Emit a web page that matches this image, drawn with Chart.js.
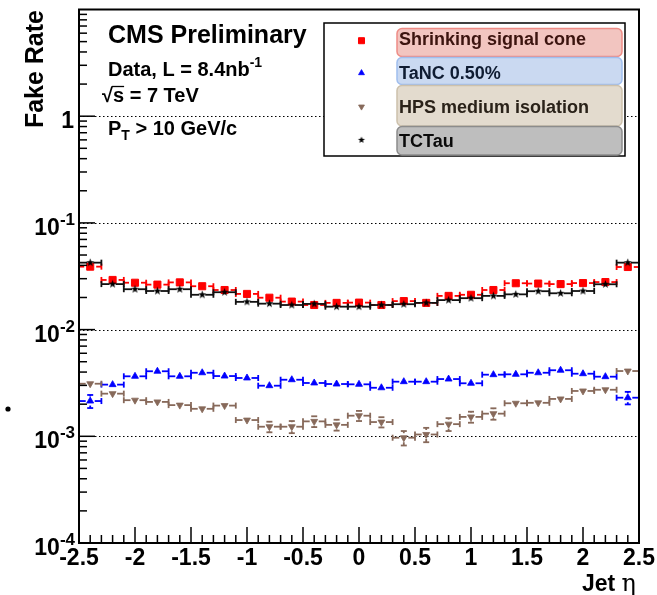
<!DOCTYPE html>
<html>
<head>
<meta charset="utf-8">
<script src="https://cdn.jsdelivr.net/npm/chart.js@4/dist/chart.umd.min.js"></script>
<style>
  html, body { margin: 0; padding: 0; background: #fff; overflow: hidden; }
  canvas { display: block; }
</style>
</head>
<body>
<canvas id="c" width="657" height="595"></canvas>
<script>
// Bin centres in jet eta (bins of width 0.2 from -2.5 to 2.5)
const etaCenters = [-2.4, -2.2, -2.0, -1.8, -1.6, -1.4, -1.2, -1.0, -0.8, -0.6, -0.4, -0.2, 0.0,
                    0.2, 0.4, 0.6, 0.8, 1.0, 1.2, 1.4, 1.6, 1.8, 2.0, 2.2, 2.4];
const binHalfWidth = 0.1;

// Fake rates per algorithm
const shrinkingCone = [0.0389, 0.0292, 0.0275, 0.0264, 0.0277, 0.0255, 0.0235, 0.0216, 0.0199, 0.0183, 0.0170, 0.0178, 0.0179,
                       0.0170, 0.0185, 0.0178, 0.0207, 0.0212, 0.0235, 0.0272, 0.0270, 0.0267, 0.0273, 0.0279, 0.0386];
const shrinkingConeErr = [0.0015, 0.0009, 0.0008, 0.0008, 0.0008, 0.0007, 0.0007, 0.0006, 0.0006, 0.0006, 0.0005, 0.0005, 0.0005,
                          0.0005, 0.0005, 0.0005, 0.0006, 0.0006, 0.0007, 0.0008, 0.0008, 0.0008, 0.0008, 0.0009, 0.0015];

const tanc = [0.00214, 0.00305, 0.00365, 0.00407, 0.00365, 0.00394, 0.00367, 0.00352, 0.00298, 0.00339, 0.00316, 0.00309, 0.00307,
              0.00285, 0.00325, 0.00325, 0.00344, 0.00314, 0.00378, 0.00381, 0.00394, 0.00416, 0.00386, 0.00362, 0.00230];
const tancErr = [0.00030, 0.00020, 0.00021, 0.00022, 0.00021, 0.00022, 0.00021, 0.00020, 0.00019, 0.00020, 0.00019, 0.00019, 0.00019,
                 0.00018, 0.00019, 0.00019, 0.00020, 0.00019, 0.00021, 0.00021, 0.00022, 0.00022, 0.00021, 0.00021, 0.00031];

const hps = [0.00311, 0.00251, 0.00218, 0.00210, 0.00196, 0.00181, 0.00194, 0.00142, 0.00123, 0.00123, 0.00138, 0.00128, 0.00156,
             0.00136, 0.00097, 0.00104, 0.00130, 0.00152, 0.00163, 0.00204, 0.00206, 0.00224, 0.00266, 0.00273, 0.00409];
const hpsErr = [0.00020, 0.00017, 0.00015, 0.00015, 0.00014, 0.00014, 0.00014, 0.00013, 0.00014, 0.00016, 0.00016, 0.00015, 0.00017,
                0.00015, 0.00015, 0.00016, 0.00018, 0.00018, 0.00020, 0.00015, 0.00015, 0.00016, 0.00018, 0.00018, 0.00022];

const tctau = [0.0424, 0.0267, 0.0239, 0.0230, 0.0239, 0.0212, 0.0224, 0.0182, 0.0175, 0.0170, 0.0174, 0.0164, 0.0164,
               0.0170, 0.0173, 0.0178, 0.0189, 0.0197, 0.0207, 0.0214, 0.0229, 0.0219, 0.0230, 0.0266, 0.0424];
const tctauErr = [0.0015, 0.0008, 0.0007, 0.0007, 0.0007, 0.0007, 0.0007, 0.0006, 0.0006, 0.0005, 0.0005, 0.0005, 0.0005,
                  0.0005, 0.0005, 0.0005, 0.0006, 0.0006, 0.0006, 0.0007, 0.0007, 0.0007, 0.0007, 0.0008, 0.0015];

const seriesNames = ['Shrinking signal cone', 'TaNC 0.50%', 'HPS medium isolation', 'TCTau'];

// Axis ticks
const xTickLabels = ['-2.5', '-2', '-1.5', '-1', '-0.5', '0', '0.5', '1', '1.5', '2', '2.5'];
const xTickValues = [-2.5, -2, -1.5, -1, -0.5, 0, 0.5, 1, 1.5, 2, 2.5];
const yTickExponents = [-4, -3, -2, -1, 0];
const gridDecades = [0.001, 0.01, 0.1, 1];

const FONT = '"Liberation Sans", Arial, Helvetica, sans-serif';
const font = (size, bold = true) => (bold ? 'bold ' : '') + size + 'px ' + FONT;

const BROWN = 'rgb(135,105,90)';

// small filled five-pointed star used as a marker
function makeStar(r, color) {
  const s = Math.ceil(r * 2 + 2);
  const c = document.createElement('canvas');
  c.width = s; c.height = s;
  const g = c.getContext('2d');
  g.fillStyle = color;
  g.beginPath();
  for (let k = 0; k < 10; k++) {
    const rr = k % 2 ? r * 0.42 : r;
    const a = -Math.PI / 2 + k * Math.PI / 5;
    g.lineTo(s / 2 + rr * Math.cos(a), s / 2 + rr * Math.sin(a));
  }
  g.closePath();
  g.fill();
  return c;
}
const starImg = makeStar(4.2, '#000');
const starLegendImg = makeStar(3.6, '#000');

function points(vals) {
  return etaCenters.map((x, i) => ({ x: x, y: vals[i] }));
}

const datasets = [
  { label: seriesNames[0], data: points(shrinkingCone), err: shrinkingConeErr, lineColor: '#ff0000', gap: 6,
    pointStyle: 'rect', pointRadius: 5, pointBorderWidth: 1, backgroundColor: '#ff0000', borderColor: '#ff0000', order: 4 },
  { label: seriesNames[1], data: points(tanc), err: tancErr, lineColor: '#0000ff', gap: 4.5,
    pointStyle: 'triangle', pointRadius: 4, pointBorderWidth: 0.8, backgroundColor: '#0000ff', borderColor: '#0000ff', order: 3 },
  { label: seriesNames[2], data: points(hps), err: hpsErr, lineColor: BROWN, gap: 4.5,
    pointStyle: 'triangle', pointRotation: 180, pointRadius: 4, pointBorderWidth: 0.8, backgroundColor: BROWN, borderColor: BROWN, order: 2 },
  { label: seriesNames[3], data: points(tctau), err: tctauErr, lineColor: '#111', gap: 3,
    pointStyle: starImg, pointRadius: 4.2, pointBorderWidth: 0, backgroundColor: '#000', borderColor: '#000', order: 1 }
];

function seg(ctx, x1, y1, x2, y2) {
  ctx.beginPath(); ctx.moveTo(x1, y1); ctx.lineTo(x2, y2); ctx.stroke();
}

// text helper: base string then a raised (or lowered) smaller string
function textWithScript(ctx, base, script, x, baseline, size, scriptSize, shift, align) {
  ctx.font = font(size); const wb = ctx.measureText(base).width;
  ctx.font = font(scriptSize); const ws = ctx.measureText(script).width;
  let x0 = x;
  if (align === 'right') x0 = x - wb - ws;
  ctx.textAlign = 'left'; ctx.textBaseline = 'alphabetic';
  ctx.font = font(size); ctx.fillText(base, x0, baseline);
  ctx.font = font(scriptSize); ctx.fillText(script, x0 + wb, baseline + shift);
  return x0 + wb + ws;
}

const rootStyle = {
  id: 'rootStyle',
  beforeDatasetsDraw(chart) {
    const { ctx, chartArea: a, scales: { y } } = chart;
    ctx.save();
    ctx.strokeStyle = '#000';
    ctx.lineWidth = 1;
    ctx.setLineDash([1.5, 2.5]);
    gridDecades.forEach(v => {
      const py = Math.round(y.getPixelForValue(v)) + 0.5;
      seg(ctx, a.left, py, a.right, py);
    });
    ctx.restore();
  },
  beforeDatasetDraw(chart, args) {
    const { ctx, scales: { x, y } } = chart;
    const ds = chart.data.datasets[args.index];
    ctx.save();
    ctx.strokeStyle = ds.lineColor;
    ctx.lineWidth = 1.8;
    const cap = 3;
    args.meta.data.forEach((pt, i) => {
      const cx = pt.x, cy = pt.y;
      const xl = x.getPixelForValue(etaCenters[i] - binHalfWidth);
      const xr = x.getPixelForValue(etaCenters[i] + binHalfWidth);
      const g = ds.gap;
      seg(ctx, xl, cy, cx - g, cy);
      seg(ctx, cx + g, cy, xr, cy);
      seg(ctx, xl, cy - cap, xl, cy + cap);
      seg(ctx, xr, cy - cap, xr, cy + cap);
      const v = ds.data[i].y, e = ds.err[i];
      const yt = y.getPixelForValue(v + e);
      const yb = y.getPixelForValue(v - e);
      if (cy - yt > g) { seg(ctx, cx, yt, cx, cy - g); seg(ctx, cx - cap, yt, cx + cap, yt); }
      if (yb - cy > g) { seg(ctx, cx, cy + g, cx, yb); seg(ctx, cx - cap, yb, cx + cap, yb); }
    });
    ctx.restore();
  },
  afterDraw(chart) {
    const { ctx, chartArea: a, scales: { x, y } } = chart;
    ctx.save();
    ctx.fillStyle = '#000';
    ctx.strokeStyle = '#000';

    // frame
    ctx.lineWidth = 2;
    ctx.strokeRect(a.left, a.top, a.right - a.left, a.bottom - a.top);

    // inward ticks: y (log) axis
    ctx.lineWidth = 1.5;
    for (let ex = -4; ex <= 0; ex++) {
      for (let m = 1; m <= 9; m++) {
        const py = y.getPixelForValue(m * Math.pow(10, ex));
        seg(ctx, a.left, py, a.left + (m === 1 ? 16 : 8), py);
      }
    }
    // inward ticks: x axis
    for (let k = 0; k <= 50; k++) {
      const v = -2.5 + k * 0.1;
      const px = x.getPixelForValue(v);
      seg(ctx, px, a.bottom, px, a.bottom - (k % 5 === 0 ? 16 : 8));
    }

    // x tick labels
    ctx.font = font(23);
    ctx.textAlign = 'center';
    ctx.textBaseline = 'alphabetic';
    xTickLabels.forEach((t, i) => ctx.fillText(t, x.getPixelForValue(xTickValues[i]), 565));

    // y tick labels
    yTickExponents.forEach(ex => {
      const py = y.getPixelForValue(Math.pow(10, ex));
      if (ex === 0) {
        ctx.font = font(23); ctx.textAlign = 'right'; ctx.textBaseline = 'alphabetic';
        ctx.fillText('1', 74, py + 12);
      } else {
        textWithScript(ctx, '10', String(ex), 75, py + 12, 23, 17, -10, 'right');
      }
    });

    // axis titles
    ctx.save();
    ctx.translate(43, 10);
    ctx.rotate(-Math.PI / 2);
    ctx.font = font(25);
    ctx.textAlign = 'right';
    ctx.textBaseline = 'alphabetic';
    ctx.fillText('Fake Rate', 0, 0);
    ctx.restore();

    ctx.textAlign = 'left'; ctx.textBaseline = 'alphabetic';
    ctx.font = '24px "DejaVu Serif", "Liberation Serif", serif';
    const etaW = ctx.measureText('η').width;
    ctx.fillText('η', 636 - etaW, 591);
    ctx.font = font(23);
    const jetW = ctx.measureText('Jet ').width;
    ctx.fillText('Jet ', 636 - etaW - jetW, 591);

    // annotations
    ctx.font = font(25);
    ctx.fillText('CMS Preliminary', 108, 43);
    textWithScript(ctx, 'Data, L = 8.4nb', '-1', 108, 76, 20, 14, -9, 'left');
    ctx.font = font(20);
    ctx.fillText('√', 102, 102);
    const rw = ctx.measureText('√').width;
    const sW = ctx.measureText('s').width;
    ctx.lineWidth = 1.3;
    seg(ctx, 102 + rw - 1, 86.5, 102 + rw + sW, 86.5);
    ctx.fillText('s = 7 TeV', 102 + rw, 102);
    const afterP = textWithScript(ctx, 'P', 'T', 108, 135, 20, 14, 5, 'left');
    ctx.font = font(20);
    ctx.fillText(' > 10 GeV/c', afterP, 135);

    // stray dot at the left margin
    ctx.beginPath(); ctx.arc(8, 409, 2.6, 0, Math.PI * 2); ctx.fill();

    // legend
    ctx.lineWidth = 1.5;
    ctx.fillStyle = '#fff';
    ctx.fillRect(324, 23, 301, 133);
    ctx.strokeRect(324, 23, 301, 133);
    const rows = [
      { top: 28.5, bottom: 56.5, base: 45, fill: 'rgb(242,197,192)', edge: 'rgb(238,140,134)', text: 'rgb(60,20,15)' },
      { top: 57.5, bottom: 84.5, base: 79, fill: 'rgb(202,217,241)', edge: 'rgb(160,190,238)', text: 'rgb(15,28,50)' },
      { top: 85.5, bottom: 126, base: 113, fill: 'rgb(227,219,206)', edge: 'rgb(205,193,172)', text: 'rgb(42,34,25)' },
      { top: 126.5, bottom: 155, base: 147, fill: 'rgb(190,190,190)', edge: 'rgb(140,140,140)', text: 'rgb(10,10,10)' }
    ];
    const markerY = [40.7, 73, 106.7, 140];
    rows.forEach((r, i) => {
      ctx.beginPath();
      ctx.roundRect(397, r.top, 225, r.bottom - r.top, 5);
      ctx.fillStyle = r.fill; ctx.fill();
      ctx.lineWidth = 1.5; ctx.strokeStyle = r.edge; ctx.stroke();
      ctx.fillStyle = r.text;
      ctx.font = font(18);
      ctx.textAlign = 'left';
      ctx.fillText(seriesNames[i], 399, r.base);

      const ds = datasets[i];
      ctx.fillStyle = ds.backgroundColor;
      ctx.strokeStyle = ds.borderColor;
      ctx.lineWidth = ds.pointBorderWidth;
      Chart.helpers.drawPoint(ctx, {
        pointStyle: i === 3 ? starLegendImg : ds.pointStyle,
        rotation: ds.pointRotation || 0,
        radius: ds.pointRadius * 0.85,
        borderWidth: ds.pointBorderWidth
      }, 361.5, markerY[i]);
    });

    ctx.restore();
  }
};

new Chart(document.getElementById('c'), {
  type: 'scatter',
  data: { datasets: datasets },
  options: {
    responsive: false,
    animation: false,
    devicePixelRatio: 1,
    events: [],
    layout: { padding: { left: 0, right: 18, top: 9.5, bottom: 0 } },
    plugins: { legend: { display: false }, tooltip: { enabled: false } },
    scales: {
      x: {
        type: 'linear', min: -2.5, max: 2.5,
        ticks: { display: false }, grid: { display: false }, border: { display: false },
        afterFit: s => { s.height = 52; }
      },
      y: {
        type: 'logarithmic', min: 1e-4, max: 10,
        ticks: { display: false }, grid: { display: false }, border: { display: false },
        afterFit: s => { s.width = 79; }
      }
    }
  },
  plugins: [rootStyle]
});
</script>
</body>
</html>
